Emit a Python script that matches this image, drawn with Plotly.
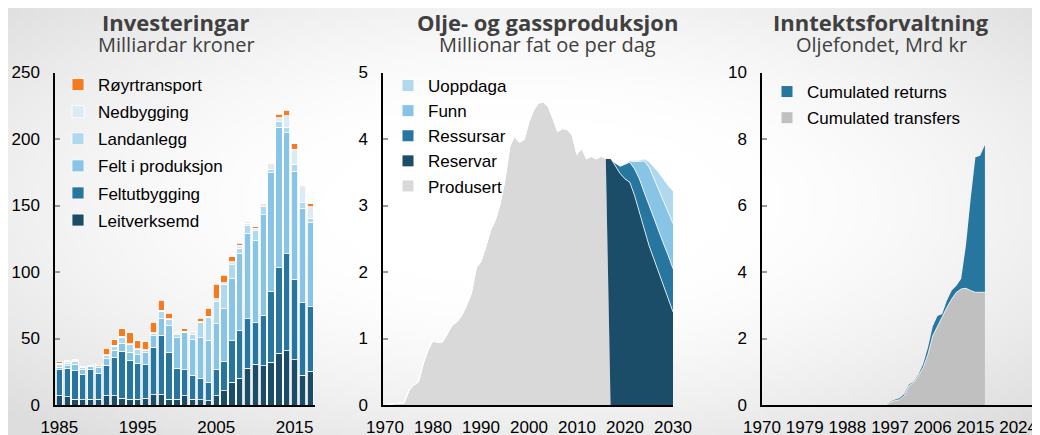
import base64
import struct
import zlib

import numpy as np
import plotly.graph_objects as go

# ---------------- Investeringar (milliardar kroner) ----------------
inv_years = list(range(1985, 2018))
leitverksemd = [7, 6.3, 4.3, 3.8, 4.3, 4.3, 7, 7, 5, 4.3, 4.3, 5, 7.6, 7.6, 4.3, 4.5, 6.8,
                4.5, 3.8, 3.3, 7, 10.8, 17, 20.2, 27.7, 30.7, 29.7, 32.2, 39, 40.8, 34, 22.2, 25.2]
feltutbygging = [19.5, 21.4, 21.4, 19.4, 22.2, 19.7, 23, 29, 35.3, 29, 27.2, 25.2, 36, 44.8, 35.5,
                 23.2, 19.7, 17.7, 16.2, 13.7, 20, 22, 31.4, 35.7, 37.1, 31, 37.8, 53, 64.3, 73.1,
                 60.5, 54.6, 48.6]
felt_i_produksjon = [2, 1.8, 5, 3.8, 2.5, 4.5, 5.3, 5, 6.3, 6.5, 6.3, 9.4, 8.6, 12.4, 20.2, 23.4,
                     27.7, 27.4, 30.4, 31.6, 34.2, 39.5, 46.6, 58.1, 64.2, 62.3, 75.5, 89.4, 105.6,
                     90.7, 81.1, 71.1, 63.2]
landanlegg = [1.7, 1.5, 2.1, 1.2, 0.5, 1, 1.7, 3, 4.3, 5.6, 3.8, 1.2, 1.5, 5.7, 4.2, 1.8, 0.7,
              3.3, 11.3, 16.9, 16.8, 18.4, 11, 4, 6, 7, 6, 2.4, 4, 4, 5.3, 4, 3.6]
nedbygging = [1.3, 1.8, 0.7, 0.5, 0.3, 0.7, 0.8, 0.8, 0.7, 0.7, 0.7, 0.8, 0.5, 0.8, 0.6, 0.8, 0.5,
              1.3, 0.8, 1.3, 2, 1.3, 1.6, 2, 1.5, 2, 1, 3, 3, 8.8, 11.3, 11.4, 8.6]
royrtransport = [1, 0.5, 0.5, 0, 0, 1.3, 5, 4.1, 5.6, 8.1, 6.1, 6, 8, 7.6, 4.2, 0.5, 1.8, 0.8,
                 2.7, 5.8, 10.7, 5.5, 4, 1.7, 1, 1, 1, 1, 2.8, 4.3, 4.3, 1, 2]

# ---------------- Olje- og gassproduksjon (mill. fat oe per dag) ----------------
hist_years = list(range(1970, 2017))
produsert = [0.0, 0.01, 0.03, 0.03, 0.03, 0.22, 0.3, 0.35, 0.63, 0.83, 0.97, 0.94, 0.95, 1.08,
             1.2, 1.25, 1.35, 1.5, 1.68, 2.06, 2.16, 2.38, 2.63, 2.78, 3.03, 3.39, 3.89, 4.04,
             3.95, 3.99, 4.26, 4.44, 4.54, 4.56, 4.49, 4.31, 4.11, 4.16, 4.14, 4.06, 3.77, 3.86,
             3.7, 3.74, 3.7, 3.74, 3.71]
proj_years = list(range(2017, 2031))
reservar = [3.71, 3.6, 3.48, 3.4, 3.35, 3.15, 2.9, 2.65, 2.4, 2.2, 2.0, 1.8, 1.6, 1.4]
ressursar = [0, 0.04, 0.11, 0.22, 0.3, 0.4, 0.5, 0.55, 0.6, 0.6, 0.6, 0.63, 0.65, 0.65]
funn = [0, 0, 0.01, 0.01, 0.02, 0.11, 0.26, 0.47, 0.58, 0.6, 0.64, 0.64, 0.65, 0.68]
uoppdaga = [0, 0, 0, 0.01, 0.01, 0.02, 0.02, 0.03, 0.08, 0.18, 0.26, 0.33, 0.4, 0.49]

# ---------------- Inntektsforvaltning (Oljefondet) ----------------
fund_years = list(range(1996, 2018))
cum_transfers = [0.0, 0.08, 0.13, 0.16, 0.28, 0.58, 0.68, 0.88, 1.13, 1.53, 2.08, 2.38, 2.64,
                 2.94, 3.19, 3.39, 3.49, 3.51, 3.44, 3.39, 3.39, 3.39]
cum_returns = [0.0, 0.02, 0.03, 0.04, 0.05, 0.04, 0.02, 0.04, 0.1, 0.2, 0.28, 0.3, 0.1, 0.2,
               0.25, 0.2, 0.31, 1.29, 2.76, 4.06, 4.11, 4.43]

DARK = "#1b4d69"
MID = "#26769f"
LIGHT = "#87c4e5"
PALE = "#b1d9ee"
PALEST = "#dbebf5"
ORANGE = "#f47b20"
GREY = "#d9d9d9"
GREY2 = "#c0c0c0"

TICK_FONT = dict(family="Liberation Sans, Arial", size=17, color="black")
LEG_FONT = dict(family="Liberation Sans, Arial", size=17, color="black")

W, H = 1040, 435
OFF = 8  # the page body adds an 8px margin, so shift everything back by that


def px_x(x):
    return (x - OFF) / W


def px_y(y):
    return 1 - (y - OFF) / H


def vignette_uri(w=208, h=87):
    # soft grey vignette like the slide background, as a tiny greyscale png
    u = (np.arange(w) + 0.5) / w - 0.5
    v = (np.arange(h) + 0.5) / h - 0.45
    r = np.sqrt(u[None, :] ** 2 + v[:, None] ** 2)
    g = 255 - 34 * np.clip((r - 0.2) / 0.5, 0, 1) ** 1.5
    g = g.astype(np.uint8)
    raw = b"".join(b"\x00" + row.tobytes() for row in g)

    def chunk(tag, data):
        return (struct.pack(">I", len(data)) + tag + data
                + struct.pack(">I", zlib.crc32(tag + data) & 0xFFFFFFFF))

    png = (b"\x89PNG\r\n\x1a\n"
           + chunk(b"IHDR", struct.pack(">IIBBBBB", w, h, 8, 0, 0, 0, 0))
           + chunk(b"IDAT", zlib.compress(raw))
           + chunk(b"IEND", b""))
    return "data:image/png;base64," + base64.b64encode(png).decode()


fig = go.Figure()

# left panel: stacked bars, legend lists them top-down
bar_series = [
    ("Leitverksemd", leitverksemd, DARK),
    ("Feltutbygging", feltutbygging, MID),
    ("Felt i produksjon", felt_i_produksjon, LIGHT),
    ("Landanlegg", landanlegg, PALE),
    ("Nedbygging", nedbygging, PALEST),
    ("Røyrtransport", royrtransport, ORANGE),
]
for i, (name, vals, col) in enumerate(bar_series):
    fig.add_trace(go.Bar(
        x=inv_years, y=vals, name=name, marker=dict(color=col, line=dict(color="white", width=0.8)),
        xaxis="x", yaxis="y", legend="legend", legendgroup=name,
        legendrank=len(bar_series) - i,
    ))

# middle panel: stacked areas (history / projection padded with zeros)
all_years = list(range(1970, 2031))
n_hist = len(hist_years)
n_proj = len(proj_years)
area_series = [
    ("Produsert", produsert + [0] * n_proj, GREY, 0),
    ("Reservar", [0] * n_hist + reservar, DARK, 0.8),
    ("Ressursar", [0] * n_hist + ressursar, MID, 0.8),
    ("Funn", [0] * n_hist + funn, LIGHT, 0.8),
    ("Uoppdaga", [0] * n_hist + uoppdaga, PALE, 0.8),
]
for name, vals, col, lw in area_series:
    fig.add_trace(go.Scatter(
        x=all_years, y=vals, name=name, stackgroup="prod", mode="lines",
        fillcolor=col, line=dict(color="white" if lw else col, width=lw),
        xaxis="x2", yaxis="y2", showlegend=False,
    ))
for name, _, col, _ in reversed(area_series):
    fig.add_trace(go.Scatter(
        x=[None], y=[None], name=name, mode="markers",
        marker=dict(symbol="square", size=11, color=col),
        xaxis="x2", yaxis="y2", legend="legend2",
    ))

# right panel: fund
fig.add_trace(go.Scatter(
    x=fund_years, y=cum_transfers, name="Cumulated transfers", stackgroup="fund", mode="lines",
    fillcolor=GREY2, line=dict(color="white", width=0.8), xaxis="x3", yaxis="y3", showlegend=False,
))
fig.add_trace(go.Scatter(
    x=fund_years, y=cum_returns, name="Cumulated returns", stackgroup="fund", mode="lines",
    fillcolor=MID, line=dict(color=MID, width=0), xaxis="x3", yaxis="y3", showlegend=False,
))
for name, col in [("Cumulated returns", MID), ("Cumulated transfers", GREY2)]:
    fig.add_trace(go.Scatter(
        x=[None], y=[None], name=name, mode="markers",
        marker=dict(symbol="square", size=11, color=col),
        xaxis="x3", yaxis="y3", legend="legend3", legendgroup=name,
    ))

Y_DOM = [px_y(405), px_y(72.5)]


def x_axis(domain, rng, tickvals, anchor):
    return dict(domain=domain, range=rng, tickvals=tickvals, anchor=anchor, showline=True,
                linecolor="black", linewidth=1.5, showgrid=False, zeroline=False, ticks="",
                tickfont=TICK_FONT, ticklabelstandoff=6, fixedrange=True, automargin=False)


def y_axis(rng, dtick, anchor):
    return dict(domain=Y_DOM, range=rng, dtick=dtick, anchor=anchor, showline=True,
                linecolor="black", linewidth=1.5, showgrid=False, zeroline=False,
                ticks="inside", ticklen=5, tickcolor="#999999", tickwidth=1.5,
                tickfont=TICK_FONT, ticklabelstandoff=10, fixedrange=True, automargin=False)


titles = [
    (176, "Investeringar", "Milliardar kroner"),
    (547, "Olje- og gassproduksjon", "Millionar fat oe per dag"),
    (881, "Inntektsforvaltning", "Oljefondet, Mrd kr"),
]
annotations = []
for x, t, s in titles:
    annotations.append(dict(x=px_x(x), y=px_y(22.5), xref="paper", yref="paper", text=t,
                            showarrow=False, xanchor="center", yanchor="middle",
                            font=dict(family="Open Sans", size=22, color="#404040", weight="bold")))
    annotations.append(dict(x=px_x(x), y=px_y(44.5), xref="paper", yref="paper", text=s,
                            showarrow=False, xanchor="center", yanchor="middle",
                            font=dict(family="Open Sans", size=20, color="#404040")))

legend_common = dict(bgcolor="rgba(0,0,0,0)", borderwidth=0, font=LEG_FONT,
                     xanchor="left", yanchor="top", itemclick=False, itemdoubleclick=False)

fig.update_layout(
    width=W, height=H,
    margin=dict(l=0, r=0, t=0, b=0, autoexpand=False),
    paper_bgcolor="white", plot_bgcolor="rgba(0,0,0,0)",
    images=[dict(source=vignette_uri(), xref="paper", yref="paper", x=0, y=1, sizex=1, sizey=1,
                 sizing="stretch", layer="below", xanchor="left", yanchor="top")],
    barmode="stack", bargap=0.2,
    xaxis=x_axis([px_x(55), px_x(315)], [1984.45, 2017.6], [1985, 1995, 2005, 2015], "y"),
    yaxis=y_axis([0, 250], 50, "x"),
    xaxis2=x_axis([px_x(383), px_x(673)], [1969.6, 2030], list(range(1970, 2031, 10)), "y2"),
    yaxis2=y_axis([0, 5], 1, "x2"),
    xaxis3=x_axis([px_x(762), 1.0], [1970, 2030.3], list(range(1970, 2025, 9)), "y3"),
    yaxis3=y_axis([0, 10], 2, "x3"),
    legend=dict(x=px_x(58), y=px_y(67), traceorder="grouped", tracegroupgap=2, **legend_common),
    legend2=dict(x=px_x(388), y=px_y(68), traceorder="normal", **legend_common),
    legend3=dict(x=px_x(767), y=px_y(74), traceorder="grouped", tracegroupgap=1, **legend_common),
    annotations=annotations,
    showlegend=True,
)

fig.write_html("out.html")
